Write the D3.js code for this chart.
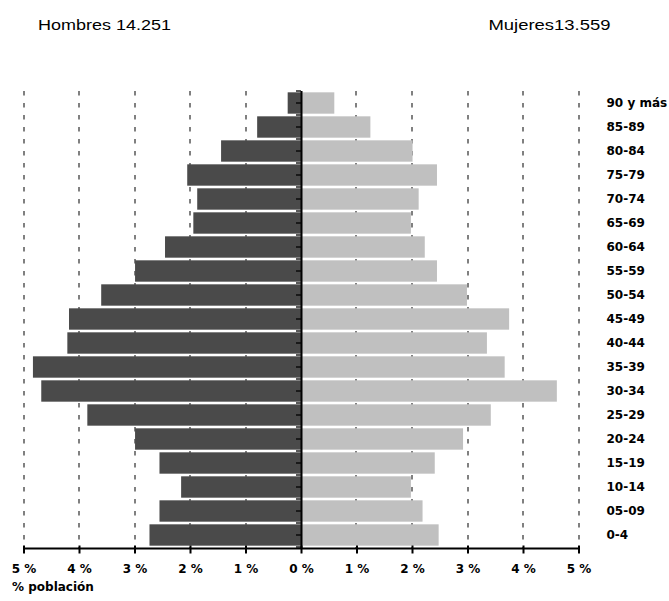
<!DOCTYPE html>
<html>
<head>
<meta charset="utf-8">
<script src="https://cdn.jsdelivr.net/npm/d3@7"></script>
<style>
    body { margin: 0; background: #fff; }
    svg { display: block; }
</style>
</head>
<body>
<div id="chart"></div>
<script>
// Age groups, top to bottom
var ages = ["90 y más", "85-89", "80-84", "75-79", "70-74", "65-69", "60-64", "55-59", "50-54",
            "45-49", "40-44", "35-39", "30-34", "25-29", "20-24", "15-19", "10-14", "05-09", "0-4"];

// % of population per group
var hombres = [0.24, 0.79, 1.44, 2.05, 1.87, 1.94, 2.45, 2.99, 3.60,
               4.18, 4.21, 4.83, 4.68, 3.85, 2.99, 2.55, 2.16, 2.55, 2.73];
var mujeres = [0.60, 1.25, 2.01, 2.45, 2.12, 1.98, 2.23, 2.45, 2.99,
               3.75, 3.35, 3.67, 4.61, 3.42, 2.92, 2.41, 1.98, 2.19, 2.48];

var xTicks = [-5, -4, -3, -2, -1, 0, 1, 2, 3, 4, 5];
var titleH = "Hombres 14.251";
var titleM = "Mujeres13.559";
var axisTitle = "% población";

var width = 669, height = 601;
var pixelFont = "bold 12px 'DejaVu Sans', sans-serif";

var svg = d3.select("#chart")
            .append("svg")
                .attr("width", width)
                .attr("height", height)

var x = d3.scaleLinear()
          .domain([-5, 5])
          .range([23.5, 578.5])

var y = d3.scaleBand()
          .domain(ages)
          .range([91, 547])
          .paddingInner(0.11)
          .paddingOuter(0.055)

var plotTop = 91, plotBottom = 548.5;

// Dashed vertical gridlines (snapped to whole pixels so they stay crisp)
svg.selectAll(".grid")
   .data(xTicks.filter(function(v) { return v != 0; }))
   .enter()
   .append("line")
        .attr("x1", function(v) { return Math.round(x(v)); })
        .attr("x2", function(v) { return Math.round(x(v)); })
        .attr("y1", plotTop)
        .attr("y2", plotBottom)
        .attr("stroke", "#808080")
        .attr("stroke-width", 2)
        .attr("stroke-dasharray", "4.5,7.5")

// Men bars (left)
svg.selectAll(".hombres")
   .data(hombres)
   .enter()
   .append("rect")
        .attr("x", function(v) { return x(-v); })
        .attr("y", function(v, i) { return y(ages[i]); })
        .attr("width", function(v) { return x(0) - x(-v); })
        .attr("height", y.bandwidth())
        .style("fill", "#4a4a4a")

// Women bars (right)
svg.selectAll(".mujeres")
   .data(mujeres)
   .enter()
   .append("rect")
        .attr("x", x(0))
        .attr("y", function(v, i) { return y(ages[i]); })
        .attr("width", function(v) { return x(v) - x(0); })
        .attr("height", y.bandwidth())
        .style("fill", "#c0c0c0")

// Category axis at 0 with ticks on boundaries and centres
var step = y.step();
var catTicks = d3.range(0, ages.length * 2 + 1).map(function(k) { return plotTop + k * step / 2; });
svg.selectAll(".cattick")
   .data(catTicks)
   .enter()
   .append("line")
        .attr("x1", x(0) - 5)
        .attr("x2", x(0))
        .attr("y1", function(v) { return v; })
        .attr("y2", function(v) { return v; })
        .attr("stroke", "#000")
        .attr("stroke-width", 1.3)

svg.append("line")
   .attr("x1", x(0) + 0.5)
   .attr("x2", x(0) + 0.5)
   .attr("y1", plotTop)
   .attr("y2", plotBottom)
   .attr("stroke", "#000")
   .attr("stroke-width", 2)

// Bottom value axis
var axis = d3.axisBottom(x)
             .tickValues(xTicks)
             .tickSize(5)
             .tickPadding(11)
             .tickFormat(function(v) { return Math.abs(v) + " %"; })

var gx = svg.append("g")
            .attr("transform", `translate(0, ${plotBottom})`)
            .call(axis)

gx.select(".domain")
  .attr("stroke-width", 2.2)
  .attr("d", `M${x(-5)},0H${x(5)}`)
gx.selectAll(".tick line")
  .attr("stroke-width", 2)
  .attr("y1", -3)
gx.selectAll(".tick text")
  .style("font", pixelFont)
  .attr("fill", "#000")

// Age labels on the right
svg.selectAll(".agelabel")
   .data(ages)
   .enter()
   .append("text")
        .attr("x", 606.5)
        .attr("y", function(d) { return y(d) + y.bandwidth() / 2; })
        .attr("dy", "0.36em")
        .style("font", pixelFont)
        .text(function(d) { return d; })

svg.append("text")
   .attr("x", 12)
   .attr("y", 591)
   .style("font", pixelFont)
   .text(axisTitle)

// Totals on top
svg.append("text")
   .attr("x", 38)
   .attr("y", 29.5)
   .attr("textLength", 133)
   .attr("lengthAdjust", "spacingAndGlyphs")
   .style("font", "15.5px 'Liberation Sans', Arial, sans-serif")
   .text(titleH)

svg.append("text")
   .attr("x", 488.5)
   .attr("y", 29.5)
   .attr("textLength", 122)
   .attr("lengthAdjust", "spacingAndGlyphs")
   .style("font", "15.5px 'Liberation Sans', Arial, sans-serif")
   .text(titleM)
</script>
</body>
</html>
